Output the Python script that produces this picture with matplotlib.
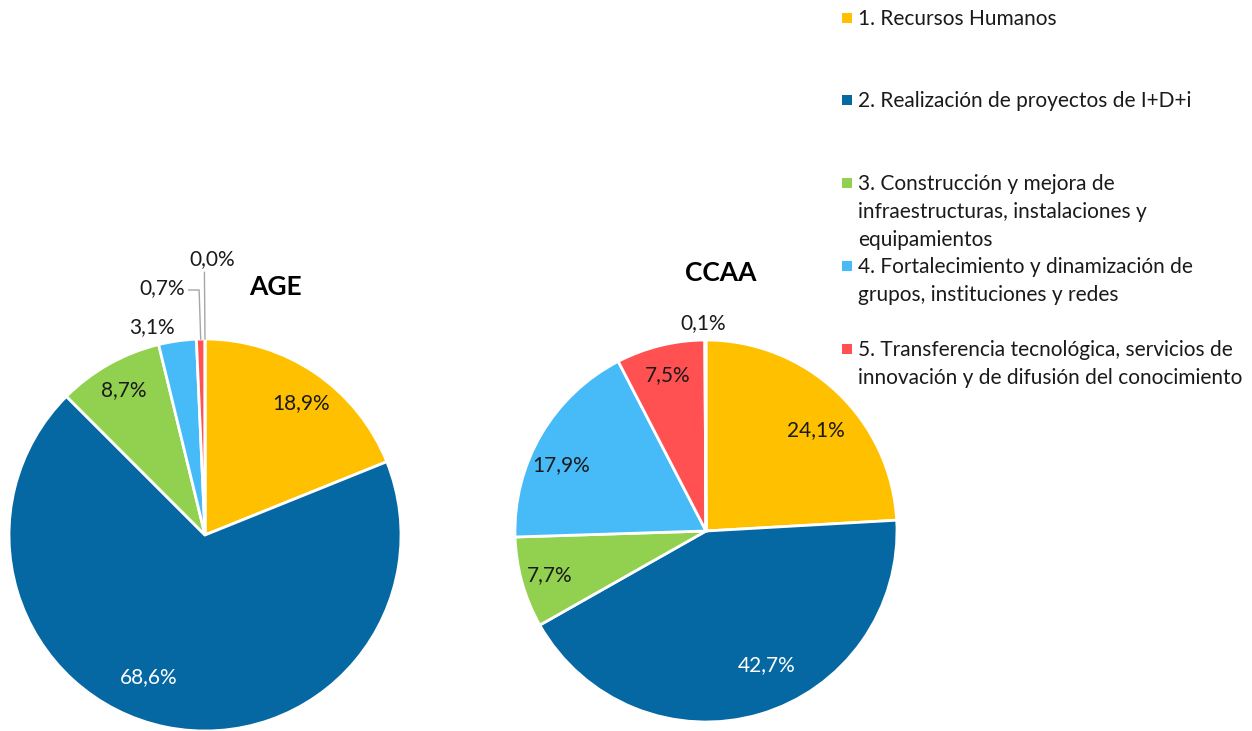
import numpy as np
import matplotlib
matplotlib.use("Agg")
import matplotlib.pyplot as plt
from matplotlib.patches import Rectangle

plt.rcParams['font.family'] = ['Lato', 'DejaVu Sans']

# Categories (the sixth share has no entry in the legend)
categories = [
    "1. Recursos Humanos",
    "2. Realización de proyectos de I+D+i",
    "3. Construcción y mejora de\ninfraestructuras, instalaciones y\nequipamientos",
    "4. Fortalecimiento y dinamización de\ngrupos, instituciones y redes",
    "5. Transferencia tecnológica, servicios de\ninnovación y de difusión del conocimiento",
    "6. Otros",
]
age_values = [18.9, 68.6, 8.7, 3.1, 0.7, 0.0]
ccaa_values = [24.1, 42.7, 7.7, 17.9, 7.5, 0.1]

colors = ["#FFC000", "#0568A3", "#92D050", "#47BBF8", "#FF5052", "#7F7F7F"]
text_color = "#1a1a1a"
FS = 15

W, H = 1252, 731
fig = plt.figure(figsize=(W / 100, H / 100), dpi=100)


def pie_axes(cx, cy, r):
    ax = fig.add_axes([(cx - r) / W, (H - cy - r) / H, 2 * r / W, 2 * r / H])
    ax.axis("off")
    return ax


def mid_angles(values):
    vals = np.asarray(values, dtype=float)
    cum = np.cumsum(vals) - vals / 2
    return np.deg2rad(90 - 360 * cum / vals.sum())


def fmt(v):
    return f"{v:.1f}%".replace(".", ",")


def draw_pie(ax, values, inside_dist, outside, title, title_xy):
    ax.pie(values, colors=colors, startangle=90, counterclock=False, radius=1,
           wedgeprops=dict(edgecolor="white", linewidth=2))
    ax.set_xlim(-1, 1)
    ax.set_ylim(-1, 1)
    ax.set_aspect("equal")
    ang = mid_angles(values)
    for i, v in enumerate(values):
        if i in outside:
            lx, ly, leader = outside[i]
            ax.text(lx, ly, fmt(v), ha="center", va="center", fontsize=FS,
                    color=text_color)
            if leader is not None:
                ex, ey = np.cos(ang[i]), np.sin(ang[i])
                xs = [p[0] for p in leader] + [ex]
                ys = [p[1] for p in leader] + [ey]
                ax.plot(xs, ys, color="#A6A6A6", lw=1.0, clip_on=False)
        else:
            d, da = inside_dist[i]
            a = ang[i] + np.deg2rad(da)
            col = "white" if i == 1 else text_color
            ax.text(d * np.cos(a), d * np.sin(a), fmt(v), ha="center",
                    va="center", fontsize=FS, color=col)
    ax.text(title_xy[0], title_xy[1], title, ha="center", va="center",
            fontsize=19, fontweight="bold", color="black")


ax1 = pie_axes(205, 535, 196)
draw_pie(
    ax1, age_values,
    inside_dist={0: (0.83, -2), 1: (0.78, -10), 2: (0.85, 0)},
    outside={
        3: (-0.27, 1.06, None),
        4: (-0.22, 1.26, [(-0.083, 1.25), (-0.03, 1.25)]),
        5: (0.035, 1.41, [(-0.003, 1.34)]),
    },
    title="AGE", title_xy=(0.357, 1.265),
)

ax2 = pie_axes(706, 531, 191)
draw_pie(
    ax2, ccaa_values,
    inside_dist={0: (0.78, -4), 1: (0.77, 8), 2: (0.85, 0), 3: (0.835, 6), 4: (0.84, 0)},
    outside={5: (-0.015, 1.09, None)},
    title="CCAA", title_xy=(0.079, 1.353),
)

# Legend drawn as stacked entries
leg_y = [18, 100, 183, 266, 349]
for name, col, y in zip(categories[:5], colors[:5], leg_y):
    fig.patches.append(Rectangle((842 / W, 1 - (y + 5) / H), 10 / W, 10 / H,
                                 transform=fig.transFigure, facecolor=col,
                                 edgecolor="none"))
    fig.text(858 / W, 1 - (y - 9) / H, name, ha="left", va="top",
             fontsize=FS, color=text_color, linespacing=1.5)

fig.savefig("out.png", dpi=100)
